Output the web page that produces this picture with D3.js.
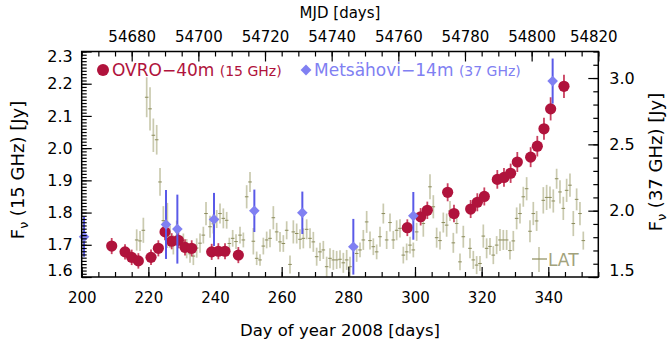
<!DOCTYPE html>
<html><head><meta charset="utf-8">
<script src="https://cdn.jsdelivr.net/npm/d3@7"></script>
<style>body{margin:0;background:#fff}svg{display:block}text{font-family:"DejaVu Sans",sans-serif}</style>
</head><body><svg id="c" width="668" height="346"></svg>
<script>
// ---- data ----
const ovroDay  = [209,213,215,217,220.8,223,225,227,229,231,233,239,241,243,247,297.7,301.7,303.7,309.8,311.7,316.7,318.7,320.8,324.7,326.7,328.7,330.7,334.7,336.7,338.7,340.7,344.7];
const ovroFlux = [1.696,1.678,1.661,1.650,1.661,1.689,1.740,1.711,1.714,1.692,1.689,1.678,1.680,1.680,1.668,1.753,1.787,1.807,1.863,1.797,1.811,1.832,1.850,1.903,1.909,1.922,1.957,1.972,2.006,2.060,2.122,2.192];
const ovroErr  = [0.025,0.024,0.024,0.024,0.024,0.025,0.026,0.025,0.025,0.025,0.025,0.025,0.025,0.025,0.025,0.026,0.027,0.027,0.028,0.027,0.028,0.028,0.028,0.029,0.029,0.030,0.031,0.031,0.032,0.034,0.036,0.036];

const metsDay  = [200.7,225.3,228.7,239.7,251.8,266.2,281.5,299.5,341.3];
const metsFlux = [1.803,1.896,1.861,1.934,1.999,1.984,1.728,1.961,2.977];
const metsErr  = [0.15,0.26,0.26,0.20,0.16,0.16,0.21,0.18,0.17];

const latDay = [216.5,217.5,218.5,219.5,220.5,221.5,222.5,223.5,224.5,225.7,226.5,227.5,228.5,230.5,231.5,232.5,233.5,234.5,235.5,236.5,237.3,238.5,239.5,240.5,241.5,242.5,243.5,244.3,245.3,246.3,247.5,248.5,249.5,250.5,251.5,
 252.5,253.5,254.5,255.5,256.5,257.5,258.5,259.5,260.5,261.5,262.5,263.5,264.5,265.5,266.5,267.5,268.5,269.5,270.5,271.5,272.5,273.5,274.5,275.5,276.5,277.5,278.5,279.5,280.5,282.5,283.5,284.5,285.5,286.5,287.5,288.5,289.5,290.5,291.5,292.5,293.5,294.5,295.5,296.5,297.5,298.5,299.5,300.5,
 302.5,304.5,305.5,306.5,307.5,308.5,309.5,310.5,311.5,312.5,313.5,314.5,316.5,317.5,318.5,319.5,320.5,321.5,322.5,323.5,324.5,325.5,326.5,327.5,328.5,329.5,330.5,331.5,332.5,333.5,334.5,335.5,336.5,338.5,339.5,340.5,341.5,342.5,343.5,344.5,345.5,346.5,347.5,348.5,349.5,350.5];
const latFlux = [1.715,1.712,1.745,2.158,2.122,2.040,2.026,1.895,1.775,1.760,1.725,1.700,1.740,1.705,1.688,1.672,1.665,1.690,1.705,1.730,1.797,1.756,1.765,1.780,1.797,1.782,1.776,1.704,1.720,1.710,1.730,1.715,1.849,1.895,1.711,
 1.658,1.653,1.696,1.715,1.720,1.784,1.740,1.709,1.704,1.745,1.639,1.740,1.735,1.717,1.720,1.748,1.720,1.709,1.663,1.678,1.684,1.632,1.658,1.653,1.653,1.655,1.644,1.653,1.632,1.673,1.684,1.715,1.771,1.713,1.694,1.678,1.725,1.797,1.715,1.769,1.715,1.745,1.751,1.668,1.678,1.699,1.684,1.740,
 1.766,1.880,1.818,1.722,1.713,1.769,1.761,1.805,1.706,1.766,1.647,1.725,1.689,1.653,1.637,1.642,1.727,1.689,1.695,1.668,1.699,1.715,1.715,1.715,1.682,1.712,1.782,1.797,1.849,1.874,1.742,1.797,1.774,1.838,1.847,1.847,1.836,1.905,1.864,1.813,1.869,1.885,1.766,1.841,1.797,1.713];
const latErr = [0.033,0.031,0.039,0.062,0.067,0.052,0.046,0.043,0.045,0.070,0.035,0.030,0.035,0.030,0.030,0.028,0.028,0.030,0.030,0.026,0.036,0.034,0.030,0.028,0.031,0.031,0.026,0.018,0.026,0.023,0.026,0.023,0.036,0.031,0.041,
 0.021,0.018,0.026,0.026,0.028,0.036,0.028,0.031,0.026,0.028,0.028,0.036,0.031,0.031,0.031,0.031,0.031,0.031,0.028,0.028,0.028,0.031,0.031,0.031,0.028,0.028,0.031,0.031,0.031,0.026,0.023,0.031,0.034,0.028,0.026,0.023,0.031,0.031,0.028,0.028,0.028,0.031,0.028,0.026,0.026,0.026,0.023,0.028,
 0.041,0.039,0.036,0.031,0.028,0.031,0.036,0.031,0.031,0.031,0.026,0.034,0.031,0.028,0.028,0.023,0.036,0.031,0.026,0.028,0.028,0.034,0.031,0.031,0.028,0.031,0.034,0.031,0.031,0.036,0.034,0.036,0.031,0.041,0.039,0.034,0.036,0.031,0.036,0.036,0.036,0.036,0.039,0.034,0.036,0.028];

const doyTicks = [200,220,240,260,280,300,320,340];
const mjdTicks = [54680,54700,54720,54740,54760,54780,54800,54820];
const leftTicks = [1.6,1.7,1.8,1.9,2.0,2.1,2.2,2.3];
const rightTicks = [1.5,2.0,2.5,3.0];
const mjdOffset = 54465;

// ---- layout ----
const svg = d3.select("#c");
const L = 81.7, R = 598.3, T = 51.5, B = 277;
const x = d3.scaleLinear().domain([200,355]).range([L,R]);
const xm = d3.scaleLinear().domain([200+mjdOffset,355+mjdOffset]).range([L,R]);
const yl = d3.scaleLinear().domain([1.6,2.3]).range([B,T]);
const yr = d3.scaleLinear().domain([1.5,3.2]).range([B,T]);

const RED="#b0133c", REDERR="#c9405f", BLUE="#8080f2", BLUEERR="#5a5ae8", LATC="#8c8c5c", LATBAR="rgba(150,150,95,0.5)";

// LAT
const lat = latDay.map((d,i)=>({d,v:latFlux[i],e:latErr[i]}));
const gl = svg.append("g");
gl.selectAll("line.b").data(lat).join("line").attr("class","b")
  .attr("x1",p=>x(p.d)).attr("x2",p=>x(p.d)).attr("y1",p=>Math.min(B,yl(p.v-p.e))).attr("y2",p=>yl(p.v+p.e))
  .attr("stroke",LATBAR).attr("stroke-width",1.7);
gl.selectAll("line.t").data(lat).join("line").attr("class","t")
  .attr("x1",p=>x(p.d)-1.8).attr("x2",p=>x(p.d)+1.8).attr("y1",p=>yl(p.v)).attr("y2",p=>yl(p.v))
  .attr("stroke",LATC).attr("stroke-width",1);

// OVRO
const ovro = ovroDay.map((d,i)=>({d,v:ovroFlux[i],e:ovroErr[i]}));
svg.append("g").selectAll("line").data(ovro).join("line")
  .attr("x1",p=>x(p.d)).attr("x2",p=>x(p.d)).attr("y1",p=>yl(p.v-p.e)).attr("y2",p=>yl(p.v+p.e))
  .attr("stroke",REDERR).attr("stroke-width",1.8);
svg.append("g").selectAll("circle").data(ovro).join("circle")
  .attr("cx",p=>x(p.d)).attr("cy",p=>yl(p.v)).attr("r",5.6).attr("fill",RED);

// Metsahovi
const mets = metsDay.map((d,i)=>({d,v:metsFlux[i],e:metsErr[i]}));
svg.append("g").selectAll("line").data(mets).join("line")
  .attr("x1",p=>x(p.d)).attr("x2",p=>x(p.d)).attr("y1",p=>Math.min(B,yr(p.v-p.e))).attr("y2",p=>yr(p.v+p.e))
  .attr("stroke",BLUEERR).attr("stroke-width",2);
const dia = d3.symbol().type(d3.symbolDiamond2).size(72);
svg.append("g").selectAll("path").data(mets).join("path")
  .attr("transform",p=>`translate(${x(p.d)},${yr(p.v)})`).attr("d",dia).attr("fill",BLUE);

// ---- axes ----
function style(g,fs){ g.select(".domain").remove(); g.selectAll("line").attr("stroke","#000").attr("stroke-width",1.2);
  g.selectAll("text").attr("font-size",fs).attr("fill","#000").attr("font-family","DejaVu Sans, sans-serif"); }
const minorDoy = d3.range(200,356,5), minorMjd = d3.range(54665,54821,5);
const minorL = d3.range(160,231,1).map(v=>v/100), minorR = d3.range(15,33,1).map(v=>v/10);

let g;
g = svg.append("g").attr("transform",`translate(0,${B})`).call(d3.axisBottom(x).tickValues(minorDoy).tickSize(-5).tickFormat("")); style(g,15);
g = svg.append("g").attr("transform",`translate(0,${B})`).call(d3.axisBottom(x).tickValues(doyTicks).tickSize(-10).tickPadding(15).tickFormat(d3.format("d"))); style(g,15);
g = svg.append("g").attr("transform",`translate(0,${T})`).call(d3.axisTop(xm).tickValues(minorMjd).tickSize(-5).tickFormat("")); style(g,15);
g = svg.append("g").attr("transform",`translate(0,${T})`).call(d3.axisTop(xm).tickValues(mjdTicks).tickSize(-10).tickPadding(10).tickFormat(d3.format("d"))); style(g,15);
g.selectAll(".tick").filter(d=>d===54820).select("text").attr("dx",-5);
g = svg.append("g").attr("transform",`translate(${L},0)`).call(d3.axisLeft(yl).tickValues(minorL).tickSize(-5).tickFormat("")); style(g,16);
g = svg.append("g").attr("transform",`translate(${L},0)`).call(d3.axisLeft(yl).tickValues(leftTicks).tickSize(-10).tickPadding(9).tickFormat(d3.format(".1f"))); style(g,16);
g.selectAll(".tick").filter(d=>d===1.6).select("text").attr("dy","-0.1em");
g.selectAll(".tick").filter(d=>d===2.3).select("text").attr("dy","0.6em");
g = svg.append("g").attr("transform",`translate(${R},0)`).call(d3.axisRight(yr).tickValues(minorR).tickSize(-5).tickFormat("")); style(g,16);
g = svg.append("g").attr("transform",`translate(${R},0)`).call(d3.axisRight(yr).tickValues(rightTicks).tickSize(-10).tickPadding(11).tickFormat(d3.format(".1f"))); style(g,16);
g.selectAll(".tick").filter(d=>d===1.5).select("text").attr("dy","-0.1em");

svg.append("rect").attr("x",L).attr("y",T).attr("width",R-L).attr("height",B-T).attr("fill","none").attr("stroke","#000").attr("stroke-width",1.5);

// titles
svg.append("text").attr("x",340).attr("y",18).attr("text-anchor","middle").attr("font-size",15).text("MJD [days]");
svg.append("text").attr("x",340).attr("y",336).attr("text-anchor","middle").attr("font-size",16.5).text("Day of year 2008 [days]");
function ftitle(tx,ty,label){
  const t = svg.append("text").attr("transform",`translate(${tx},${ty}) rotate(-90)`).attr("text-anchor","middle").attr("font-size",18);
  t.append("tspan").text("F");
  t.append("tspan").attr("font-size",12.5).attr("dy",4).text("ν");
  t.append("tspan").attr("dy",-4).text(" "+label);
}
ftitle(24,170,"(15 GHz) [Jy]");
ftitle(662,162,"(37 GHz) [Jy]");

// legend
svg.append("circle").attr("cx",103).attr("cy",70).attr("r",6).attr("fill",RED);
const t1 = svg.append("text").attr("x",112).attr("y",76).attr("fill",RED).attr("font-size",17);
t1.append("tspan").text("OVRO−40m ");
t1.append("tspan").attr("font-size",14).text("(15 GHz)");
svg.append("path").attr("transform","translate(306,70)").attr("d",d3.symbol().type(d3.symbolDiamond2).size(75)).attr("fill",BLUE);
const t2 = svg.append("text").attr("x",314).attr("y",76).attr("fill",BLUE).attr("font-size",17);
t2.append("tspan").text("Metsähovi−14m ");
t2.append("tspan").attr("font-size",14).text("(37 GHz)");
svg.append("line").attr("x1",539).attr("x2",539).attr("y1",247).attr("y2",272).attr("stroke",LATBAR).attr("stroke-width",1.7);
svg.append("line").attr("x1",532).attr("x2",547).attr("y1",259).attr("y2",259).attr("stroke",LATC).attr("stroke-width",1.2);
svg.append("text").attr("x",548).attr("y",265.5).attr("fill","#a2a27c").attr("font-size",17).text("LAT");
</script></body></html>
